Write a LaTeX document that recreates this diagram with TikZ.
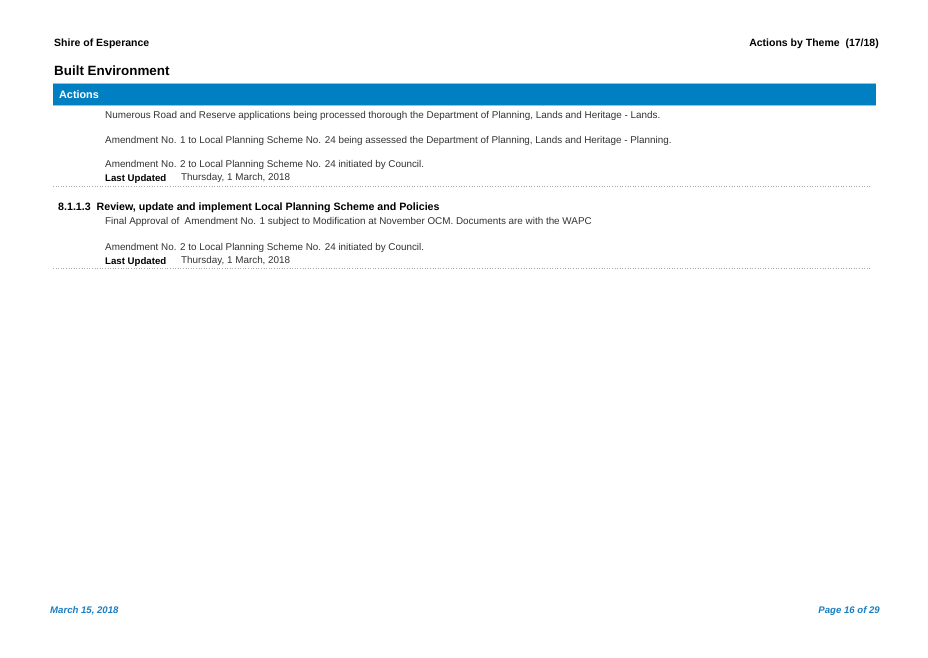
\documentclass[tikz,border=0pt]{standalone}
\usepackage{fontspec}
\setmainfont{Liberation Sans}
\definecolor{barblue}{HTML}{0080C3}
\definecolor{barlight}{HTML}{8CC4E6}
\definecolor{foot}{HTML}{1A7EC2}
\definecolor{body}{HTML}{333333}
\definecolor{dots}{HTML}{A8A8A8}
\tikzset{
  x=1pt, y=-1pt,
  hdr/.style={anchor=west, inner sep=0pt, font=\fontsize{10.5}{12}\selectfont\bfseries},
  title/.style={anchor=west, inner sep=0pt, font=\fontsize{13.4}{15}\selectfont\bfseries},
  txt/.style={anchor=west, inner sep=0pt, text=body, font=\fontsize{9.87}{12}\selectfont},
  lbl/.style={anchor=west, inner sep=0pt, font=\fontsize{9.65}{12}\selectfont\bfseries},
  sect/.style={anchor=west, inner sep=0pt, font=\fontsize{10.65}{12}\selectfont\bfseries},
  ftr/.style={inner sep=0pt, text=foot, font=\fontsize{9.6}{11}\selectfont\bfseries\itshape},
  dotline/.style={dots, line width=0.6pt, dash pattern=on 0.8pt off 1.8pt}
}
\begin{document}
\begin{tikzpicture}
\useasboundingbox[fill=white] (0,0) rectangle (928,657);
% header
\node[hdr] (shire) at (54,44) {Shire of Esperance};
\node[hdr, anchor=east] (theme) at (879,44) {Actions by Theme\ \ (17/18)};
\node[title] (built) at (54,71) {Built Environment};
% blue bar
\fill[barblue] (53,83) rectangle (876,106);
\draw[barlight, line width=1pt] (53,83.5) -- (876,83.5);
\draw[barlight, line width=1pt] (53,105.8) -- (876,105.8);
\node[hdr, text=white, font=\fontsize{10.8}{12}\selectfont\bfseries] (actions) at (59,95) {Actions};
% first block
\node[txt] (t1) at (105,116) {Numerous Road and Reserve applications being processed thorough the Department of Planning, Lands and Heritage - Lands.};
\node[txt] (t2) at (105,141) {Amendment No. 1 to Local Planning Scheme No. 24 being assessed the Department of Planning, Lands and Heritage - Planning.};
\node[txt] (t3) at (105,165) {Amendment No. 2 to Local Planning Scheme No. 24 initiated by Council.};
\node[lbl] (lu1) at (105,179) {Last Updated};
\node[txt] (d1) at (181,178) {Thursday, 1 March, 2018};
\coordinate (l1a) at (53,186);
\coordinate (l1b) at (870,186);
\draw[dotline] (l1a) -- (l1b);
% second block
\node[sect] (s2) at (58,208) {8.1.1.3\ \ Review, update and implement Local Planning Scheme and Policies};
\node[txt] (t4) at (105,222) {Final Approval of \ Amendment No. 1 subject to Modification at November OCM. Documents are with the WAPC};
\node[txt] (t5) at (105,248) {Amendment No. 2 to Local Planning Scheme No. 24 initiated by Council.};
\node[lbl] (lu2) at (105,262) {Last Updated};
\node[txt] (d2) at (181,261) {Thursday, 1 March, 2018};
\coordinate (l2a) at (53,268);
\coordinate (l2b) at (870,268);
\draw[dotline] (l2a) -- (l2b);
% footer
\node[ftr, anchor=west] (date) at (50,611) {March 15, 2018};
\node[ftr, anchor=east] (page) at (880,611) {Page 16 of 29};
\end{tikzpicture}
\end{document}
